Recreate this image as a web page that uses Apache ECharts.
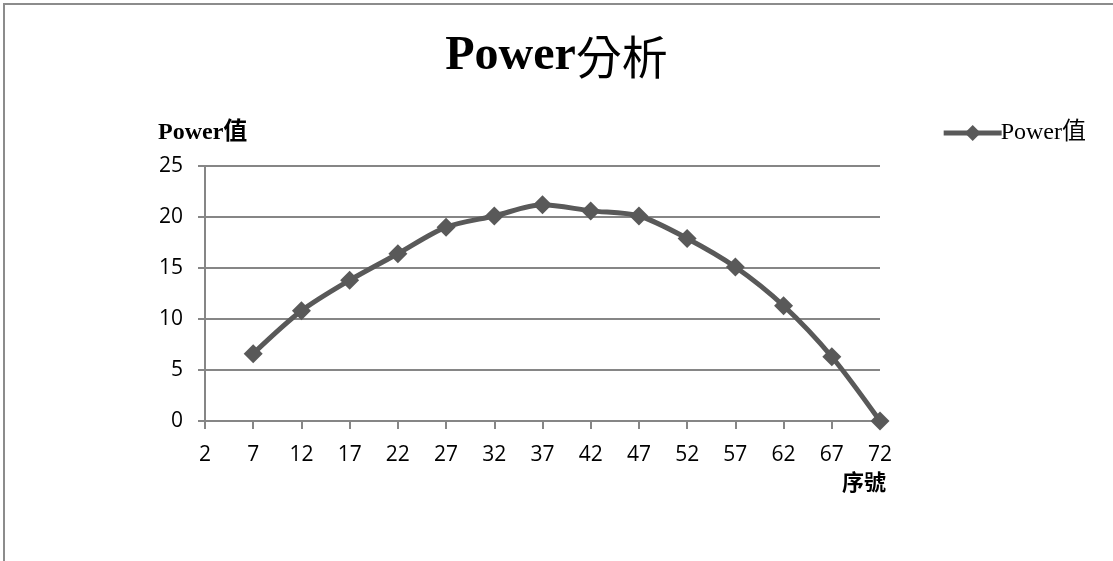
<!DOCTYPE html>
<html><head><meta charset="utf-8">
<script src="https://cdn.jsdelivr.net/npm/echarts@6/dist/echarts.min.js"></script>
<style>
html,body{margin:0;padding:0;background:#fff;}
#frame{position:absolute;left:3px;top:3px;width:1200px;height:600px;border-left:2px solid #8c8c8c;border-top:2px solid #8c8c8c;}
#c{position:absolute;left:0;top:0;width:1113px;height:561px;}
</style></head>
<body>
<div id="frame"></div>
<div id="c"></div>
<script>
var seriesName = 'Power值';
var xValues = [7, 12, 17, 22, 27, 32, 37, 42, 47, 52, 57, 62, 67, 72];
var powerValues = [6.6, 10.8, 13.8, 16.4, 19.0, 20.1, 21.2, 20.6, 20.1, 17.9, 15.1, 11.3, 6.3, 0];
var titleLatin = 'Power';
var titleCJK = '分析';
var yAxisName = 'Power值';
var xAxisName = '序號';

var chart = echarts.init(document.getElementById('c'));
var data = xValues.map(function (x, i) { return [x, powerValues[i]]; });
var labelFont = '"Open Sans", "Noto Sans", sans-serif';
var serif = '"Liberation Serif", "Noto Sans CJK TC", serif';
chart.setOption({
  backgroundColor: 'transparent',
  animation: false,
  title: [
    { text: '{a|' + titleLatin + '}{b|' + titleCJK + '}', left: 'center', top: 28,
      textStyle: { rich: {
        a: { fontFamily: serif, fontWeight: 'bold', fontSize: 48, color: '#000' },
        b: { fontFamily: '"Noto Sans CJK TC", serif', fontWeight: 'normal', fontSize: 46, color: '#000' }
      } } },
    { text: yAxisName, left: 153, top: 116, textStyle: { fontFamily: serif, fontWeight: 'bold', fontSize: 24, color: '#000' } },
    { text: xAxisName, left: 837, top: 466, textStyle: { fontFamily: '"Noto Sans CJK TC", serif', fontWeight: 'bold', fontSize: 22, color: '#000' } }
  ],
  legend: {
    right: 22, top: 116, itemWidth: 58, itemHeight: 20, itemGap: 0,
    lineStyle: { width: 5, color: '#595959' },
    itemStyle: { color: '#595959' },
    textStyle: { fontFamily: serif, fontSize: 24, color: '#000', padding: [0,0,0,-6] },
    data: [{ name: seriesName }]
  },
  grid: { left: 205, right: 233, top: 166, bottom: 140 },
  xAxis: {
    type: 'value', min: 2, max: 72, interval: 5,
    axisLine: { show: true, lineStyle: { color: '#868686', width: 2 } },
    axisTick: { show: true, length: 8, inside: false, lineStyle: { color: '#868686', width: 2 } },
    axisLabel: { fontFamily: labelFont, fontSize: 21, color: '#000', margin: 24 },
    splitLine: { show: false }
  },
  yAxis: {
    type: 'value', min: 0, max: 25, interval: 5,
    axisLine: { show: true, lineStyle: { color: '#868686', width: 2 } },
    axisTick: { show: true, length: 7, lineStyle: { color: '#868686', width: 2 } },
    axisLabel: { fontFamily: labelFont, fontSize: 21, color: '#000', margin: 22 },
    splitLine: { show: true, lineStyle: { color: '#868686', width: 2 } }
  },
  series: [{
    name: seriesName, type: 'line', data: data, smooth: 0.3,
    symbol: 'diamond', symbolSize: 19,
    lineStyle: { color: '#595959', width: 5 },
    itemStyle: { color: '#595959' }
  }]
});
</script>
</body></html>
